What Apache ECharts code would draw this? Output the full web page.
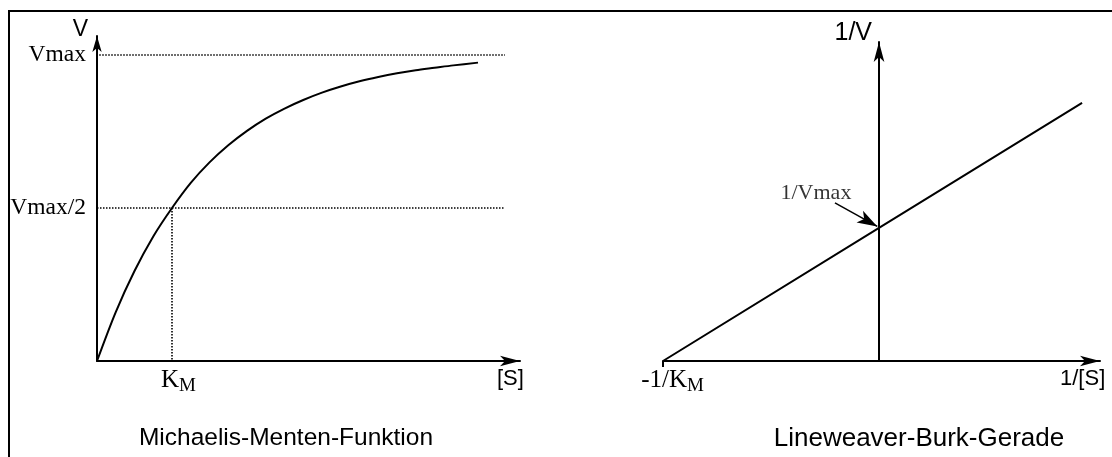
<!DOCTYPE html>
<html><head><meta charset="utf-8">
<script src="https://cdn.jsdelivr.net/npm/echarts@6/dist/echarts.min.js"></script>
<style>html,body{margin:0;padding:0;background:#fff}#c{width:1112px;height:457px}</style>
</head><body><div id="c"></div>
<script>
// Michaelis-Menten curve ([S] in units of K_M, V in units of Vmax)
const mmS = [0, 0.25, 0.5, 0.75, 1, 1.25, 1.5, 1.75, 2, 2.25, 2.5, 2.75, 3, 3.25, 3.5, 3.75, 4, 4.25, 4.5, 4.75, 5.08];
const mmV = [0, 0.16, 0.294, 0.407, 0.50, 0.582, 0.649, 0.705, 0.752, 0.792, 0.825, 0.853, 0.877, 0.897, 0.914, 0.928, 0.94, 0.95, 0.958, 0.966, 0.975];
const vmaxLineS = [-0.09, 5.44];
const halfLineS = [0, 5.44];
const kmValue = 1;
const vmaxValue = 1;
const halfValue = 0.5;
// Lineweaver-Burk line (1/[S] in units of 1/K_M, 1/V in units of 1/Vmax)
const lbX = [-1, 0, 0.94];
const lbY = [0, 1, 1.94];
// tick labels
const leftYTickValues = [0.5, 1];
const leftYTickLabels = ['Vmax/2', 'Vmax'];
const leftXTickValues = [1];
const rightXTickValues = [-1];
const titles = ['Michaelis-Menten-Funktion', 'Lineweaver-Burk-Gerade'];
const annotText = '1/Vmax';

const serif = 'Liberation Serif';
const sans = 'Liberation Sans';
const black = '#000';
const dot = {color: black, width: 1.6, type: [1.5, 1.5]};

const chart = echarts.init(document.getElementById('c'), null, {renderer: 'canvas'});
chart.setOption({
  animation: false,
  backgroundColor: '#fff',
  title: [
    {text: titles[0], left: 281, top: 421, textAlign: 'center',
     textStyle: {fontFamily: sans, fontSize: 24.5, fontWeight: 'normal', color: black}},
    {text: titles[1], left: 914, top: 420.5, textAlign: 'center',
     textStyle: {fontFamily: sans, fontSize: 26, fontWeight: 'normal', color: black}}
  ],
  graphic: [{type: 'rect', shape: {x: 9, y: 11, width: 1300, height: 700},
    style: {fill: 'none', stroke: black, lineWidth: 2}, silent: true, z: 100}],
  grid: [
    {left: 97, top: 36, width: 423, height: 325},
    {left: 663, top: 42, width: 437, height: 319}
  ],
  xAxis: [
    {gridIndex: 0, type: 'value', min: 0, max: 5.64,
     axisLine: {onZero: false, symbol: ['none', 'arrow'], symbolSize: [8, 20], lineStyle: {color: black, width: 2}},
     axisTick: {show: false}, splitLine: {show: false},
     axisLabel: {customValues: leftXTickValues, margin: 7,
       formatter: () => '{p|}{k|K}{m|M}',
       rich: {p: {width: 13}, k: {fontFamily: serif, fontSize: 25, color: black, verticalAlign: 'top'},
              m: {fontFamily: serif, fontSize: 19, color: black, padding: [9, 0, 0, 0], verticalAlign: 'top'}}},
     name: '[S]', nameLocation: 'end', nameGap: -23,
     nameTextStyle: {fontFamily: sans, fontSize: 22, color: black, align: 'left', verticalAlign: 'top', padding: [7, 0, 0, 0]}},
    {gridIndex: 1, type: 'value', min: -1, max: 1.023,
     axisLine: {onZero: false, symbol: ['none', 'arrow'], symbolSize: [8, 20], lineStyle: {color: black, width: 2}},
     axisTick: {show: true, customValues: rightXTickValues, length: 6, lineStyle: {color: black, width: 2}},
     splitLine: {show: false},
     axisLabel: {customValues: rightXTickValues, margin: 7,
       formatter: () => '{p|}{k|-1/K}{m|M}',
       rich: {p: {width: 19}, k: {fontFamily: serif, fontSize: 25, color: black, verticalAlign: 'top'},
              m: {fontFamily: serif, fontSize: 19, color: black, padding: [9, 0, 0, 0], verticalAlign: 'top'}}},
     name: '1/[S]', nameLocation: 'end', nameGap: -40,
     nameTextStyle: {fontFamily: sans, fontSize: 22, color: black, align: 'left', verticalAlign: 'top', padding: [7, 0, 0, 0]}}
  ],
  yAxis: [
    {gridIndex: 0, type: 'value', min: 0, max: 1.062,
     axisLine: {show: true, onZero: false, symbol: ['none', 'arrow'], symbolSize: [7, 16], lineStyle: {color: black, width: 2}},
     axisTick: {show: false}, splitLine: {show: false},
     axisLabel: {customValues: leftYTickValues, margin: 11, fontFamily: serif, fontSize: 23.5, color: black,
       formatter: v => leftYTickLabels[leftYTickValues.indexOf(v)] || ''},
     name: 'V', nameLocation: 'end', nameGap: 6,
     nameTextStyle: {fontFamily: sans, fontSize: 23, color: black, align: 'right', verticalAlign: 'middle', padding: [0, 9, 0, 0]}},
    {gridIndex: 1, type: 'value', min: 0, max: 2.398,
     axisLine: {show: true, onZero: true, symbol: ['none', 'arrow'], symbolSize: [8, 20], lineStyle: {color: black, width: 2}},
     axisTick: {show: false}, splitLine: {show: false}, axisLabel: {show: false},
     name: '1/V', nameLocation: 'end', nameGap: 9,
     nameTextStyle: {fontFamily: sans, fontSize: 25, color: black, align: 'right', verticalAlign: 'middle', padding: [0, 7, 0, 0]}}
  ],
  series: [
    {type: 'line', xAxisIndex: 0, yAxisIndex: 0, data: mmS.map((s, i) => [s, mmV[i]]),
     smooth: 0.3, symbol: 'none', lineStyle: {color: black, width: 2}, z: 5},
    {type: 'line', xAxisIndex: 0, yAxisIndex: 0, clip: false, symbol: 'none',
     data: vmaxLineS.map(s => [s, vmaxValue]), lineStyle: dot},
    {type: 'line', xAxisIndex: 0, yAxisIndex: 0, clip: false, symbol: 'none',
     data: halfLineS.map(s => [s, halfValue]), lineStyle: dot},
    {type: 'line', xAxisIndex: 0, yAxisIndex: 0, clip: false, symbol: 'none',
     data: [[kmValue, halfValue], [kmValue, 0]], lineStyle: dot},
    {type: 'line', xAxisIndex: 1, yAxisIndex: 1, data: lbX.map((x, i) => [x, lbY[i]]),
     symbol: 'none', lineStyle: {color: black, width: 2},
     markLine: {silent: true, symbol: ['none', 'arrow'], symbolSize: [10, 20], animation: false,
       lineStyle: {color: black, width: 1.5, type: 'solid'}, label: {show: false},
       data: [[{coord: [-0.204, 1.188]}, {coord: [-0.008, 1.012]}]]}},
    {type: 'scatter', xAxisIndex: 1, yAxisIndex: 1, symbolSize: 0, data: [[-0.292, 1.263]],
     label: {show: true, position: 'inside', formatter: annotText, fontFamily: serif, fontSize: 22, color: black}}
  ]
});
</script></body></html>
